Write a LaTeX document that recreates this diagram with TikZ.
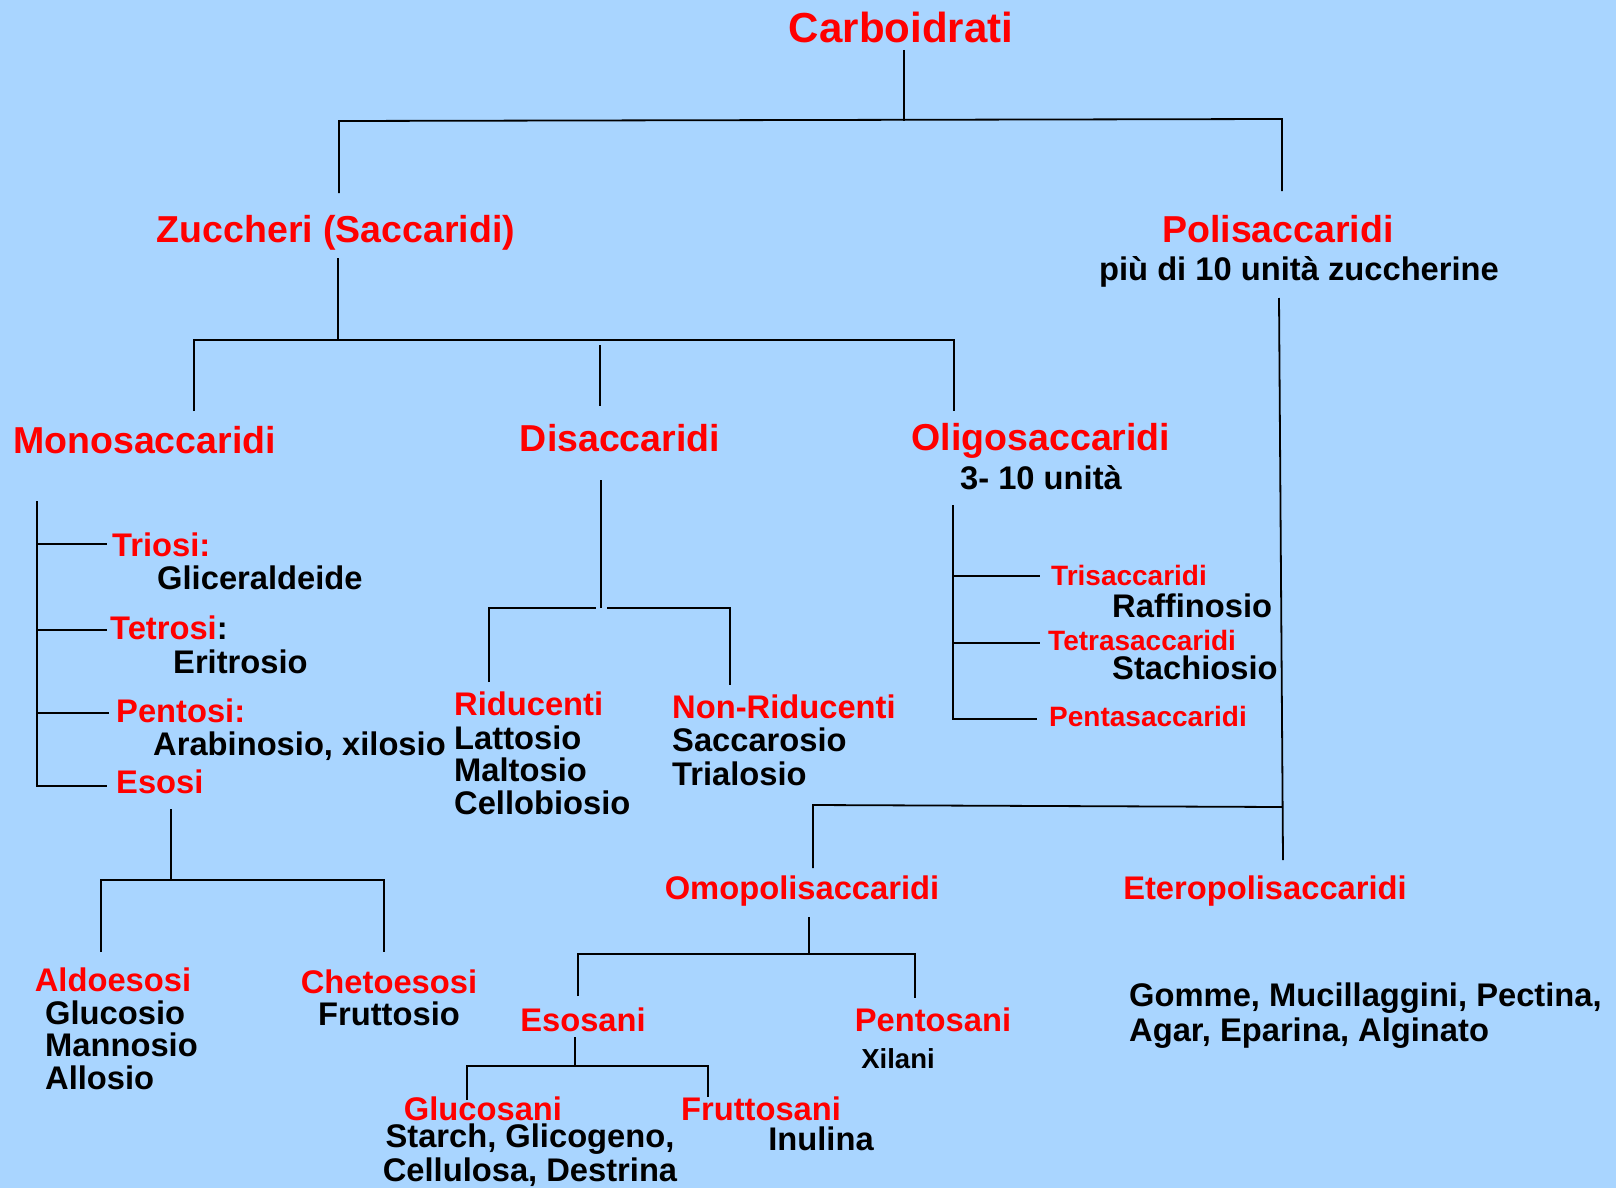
\documentclass[tikz,border=0pt]{standalone}
\usepackage{fontspec}
\setmainfont{Liberation Sans}
\definecolor{sky}{RGB}{169,213,255}
\definecolor{hot}{RGB}{255,0,0}

\begin{document}
\begin{tikzpicture}[
x=1pt,y=-1pt,
title/.style={
text=hot,inner sep=0pt,anchor=base,yshift=-2pt,
font=\fontsize{42}{48}\selectfont\bfseries
},
head/.style={
text=hot,inner sep=0pt,anchor=base,yshift=-2pt,
font=\fontsize{37.5}{40}\selectfont\bfseries
},
sub/.style={
text=hot,inner sep=0pt,anchor=base,yshift=-2pt,
font=\fontsize{32.7}{33}\selectfont\bfseries
},
minor/.style={
text=hot,inner sep=0pt,anchor=base west,yshift=-2pt,
font=\fontsize{28}{30}\selectfont\bfseries
},
info/.style={
text=black,inner sep=0pt,anchor=base,align=left,yshift=-2pt,
font=\fontsize{32.7}{32.5}\selectfont\bfseries
},
note/.style={
text=black,inner sep=0pt,anchor=base,yshift=-2pt,
font=\fontsize{27.5}{30}\selectfont\bfseries
},
link/.style={line width=1.8pt, black}
]

\useasboundingbox (0,0) rectangle (1616,1188);
\fill[sky] (0,0) rectangle (1616,1188);

% =======================
% TOP LEVELS
% =======================

\node[title] (carbo) at (901,41) {Carboidrati};

\node[head] (zucc) at (336,240) {Zuccheri (Saccaridi)};

\node[head] (poli) at (1278,240) {Polisaccaridi};
\node[info] (poliNote) at (1299,278) {più di 10 unità zuccherine};

\node[head,anchor=base west] (mono) at (13,451) {Monosaccaridi};
\node[head] (disacc) at (620,449) {Disaccaridi};
\node[head] (oligo) at (1041,448) {Oligosaccaridi};
\node[info] (oligoNote) at (1041,487) {3- 10 unità};

% =======================
% MONOSACCARIDI
% =======================

\node[sub,anchor=base west] (triosi) at (112,554) {Triosi:};
\node[info,anchor=base west] (triosiEx) at (157,587) {Gliceraldeide};
\node[sub,anchor=base west] (tetrosi) at (110,637) {Tetrosi\textcolor{black}{:}};
\node[info,anchor=base west] (tetrosiEx) at (173,671) {Eritrosio};
\node[sub,anchor=base west] (pentosi) at (116,720) {Pentosi:};
\node[info,anchor=base west] (pentosiEx) at (153,753) {Arabinosio, xilosio};
\node[sub,anchor=base west] (esosi) at (116,791) {Esosi};

% multi-line nodes sit on their last baseline
\node[sub] (aldo) at (113,989) {Aldoesosi};
\node[info,anchor=base west] (aldoEx) at (45,1087) {Glucosio\\Mannosio\\Allosio};
\node[sub] (cheto) at (389,991) {Chetoesosi};
\node[info] (chetoEx) at (389,1023) {Fruttosio};

% =======================
% DISACCARIDI
% =======================

\node[sub,anchor=base west] (rid) at (454,713) {Riducenti};
\node[info,anchor=base west] (ridEx) at (454,812) {Lattosio\\Maltosio\\Cellobiosio};
\node[sub,anchor=base west] (nonrid) at (672,716) {Non-Riducenti};
\node[info,anchor=base west,font=\fontsize{32.7}{33.5}\selectfont\bfseries] (nonridEx) at (672,783)
{Saccarosio\\Trialosio};

% =======================
% OLIGOSACCARIDI
% =======================

\node[minor] (tri) at (1051,583) {Trisaccaridi};
\node[info,anchor=base west] (triEx) at (1112,615) {Raffinosio};
\node[minor] (tetra) at (1048,648) {Tetrasaccaridi};
\node[info,anchor=base west] (tetraEx) at (1112,677) {Stachiosio};
\node[minor] (penta) at (1049,724) {Pentasaccaridi};

% =======================
% POLISACCARIDI
% =======================

\node[sub] (omo) at (802,897) {Omopolisaccaridi};
\node[sub] (etero) at (1265,897) {Eteropolisaccaridi};
\node[info,anchor=base west,font=\fontsize{32.7}{35}\selectfont\bfseries] (eteroEx) at (1129,1039)
{Gomme, Mucillaggini, Pectina,\\Agar, Eparina, Alginato};

\node[sub] (esosani) at (583,1029) {Esosani};
\node[sub] (pentosani) at (933,1029) {Pentosani};
\node[note] (xilani) at (898,1066) {Xilani};

\node[sub] (glucosani) at (483,1118) {Glucosani};
\node[info,align=center,font=\fontsize{32.7}{34}\selectfont\bfseries] (glucosaniEx) at (530,1179)
{Starch, Glicogeno,\\Cellulosa, Destrina};
\node[sub] (fruttosani) at (761,1118) {Fruttosani};
\node[info] (fruttosaniEx) at (821,1148) {Inulina};

% =======================
% JOINTS
% =======================

\coordinate (carboStem) at (904,50);
\coordinate (carboBus) at (904,121);
\coordinate (zuccTip) at (339,193);
\coordinate (poliTip) at (1282,191);

\coordinate (zuccStem) at (338,258);
\coordinate (zuccBus) at (338,340);
\coordinate (monoTip) at (194,411);
\coordinate (disaccTip) at (600,406);
\coordinate (disaccTop) at (600,345);
\coordinate (oligoTip) at (954,411);

\coordinate (monoTop) at (37,501);
\coordinate (monoEnd) at (107,786);

\coordinate (disaccStem) at (601,480);
\coordinate (disaccBus) at (601,608);
\coordinate (ridTip) at (489,682);
\coordinate (nonridTip) at (730,685);

\coordinate (oligoTop) at (953,505);
\coordinate (oligoEnd) at (1037,719);

\coordinate (poliStem) at (1279,298);
\coordinate (poliBus) at (1282,807);
\coordinate (eteroTip) at (1283,860);
\coordinate (omoTip) at (813,868);

\coordinate (esosiStem) at (171,809);
\coordinate (esosiBus) at (171,880);
\coordinate (aldoTip) at (101,952);
\coordinate (chetoTip) at (384,952);

\coordinate (omoStem) at (809,917);
\coordinate (omoBus) at (809,954);
\coordinate (esosaniTip) at (578,996);
\coordinate (pentosaniTip) at (915,998);

\coordinate (esosaniStem) at (575,1037);
\coordinate (esosaniBus) at (575,1066);
\coordinate (glucosaniTip) at (467,1100);
\coordinate (fruttosaniTip) at (708,1097);

% =======================
% LINES
% =======================

\draw[link] (carboStem) -- (carboBus);
\draw[link] (zuccTip) -- (339,121) -- (1282,119) -- (poliTip);

\draw[link] (zuccStem) -- (zuccBus);
\draw[link] (monoTip) |- (zuccBus) -| (oligoTip);
\draw[link] (disaccTop) -- (disaccTip);

\draw[link] (monoTop) |- (monoEnd);
\draw[link] (37,544) -- (107,544);
\draw[link] (37,630) -- (107,630);
\draw[link] (37,713) -- (109,713);

\draw[link] (disaccStem) -- (disaccBus);
\draw[link] (ridTip) |- (596,608);
\draw[link] (607,608) -| (nonridTip);

\draw[link] (oligoTop) |- (oligoEnd);
\draw[link] (953,576) -- (1040,576);
\draw[link] (953,643) -- (1040,643);

\draw[link] (poliStem) -- (eteroTip);
\draw[link] (omoTip) -- (813,805) -- (poliBus);

\draw[link] (esosiStem) -- (esosiBus);
\draw[link] (aldoTip) |- (esosiBus) -| (chetoTip);

\draw[link] (omoStem) -- (omoBus);
\draw[link] (esosaniTip) |- (omoBus) -| (pentosaniTip);

\draw[link] (esosaniStem) -- (esosaniBus);
\draw[link] (glucosaniTip) |- (esosaniBus) -| (fruttosaniTip);

\end{tikzpicture}
\end{document}
